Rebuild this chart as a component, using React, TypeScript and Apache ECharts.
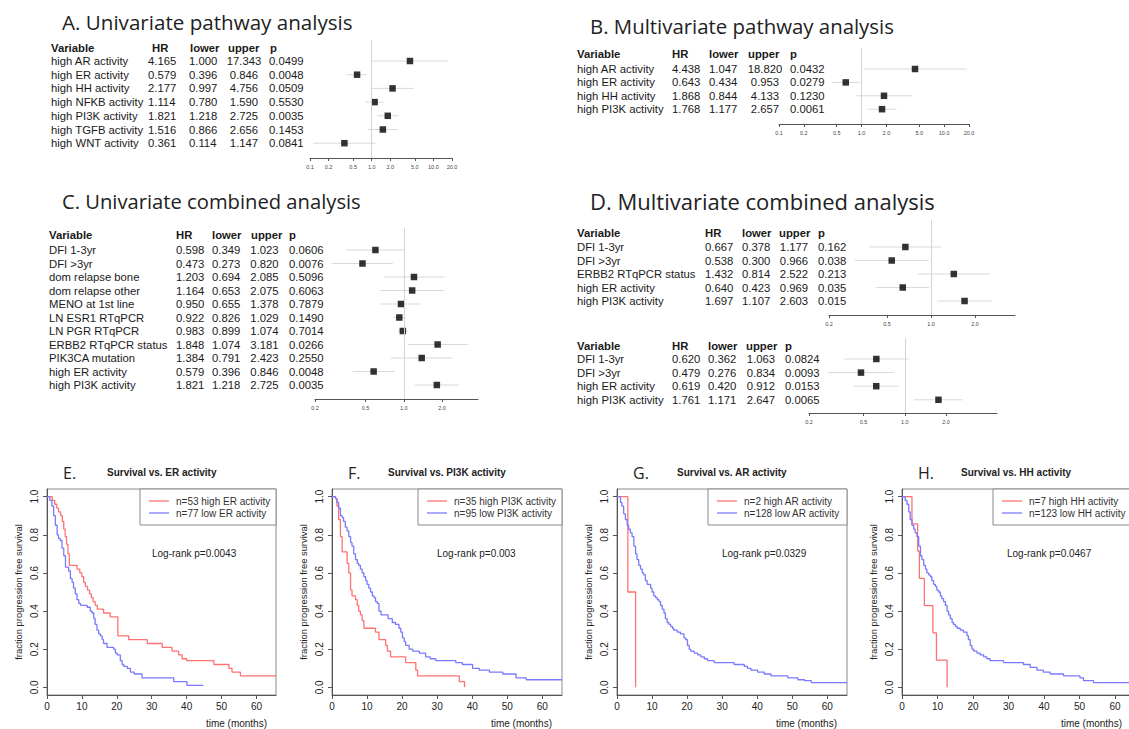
import React, { useEffect, useRef } from 'react';
import * as echarts from 'echarts';

// ---------------- Forest plot data ----------------
const tableHeaders = ['Variable', 'HR', 'lower', 'upper', 'p'];
const wideTicks = [0.1, 0.2, 0.5, 1.0, 2.0, 5.0, 10.0, 20.0];
const narrowTicks = [0.2, 0.5, 1.0, 2.0];

const aVars = ['high AR activity', 'high ER activity', 'high HH activity', 'high NFKB activity', 'high PI3K activity', 'high TGFB activity', 'high WNT activity'];
const aHR = [4.165, 0.579, 2.177, 1.114, 1.821, 1.516, 0.361];
const aLower = [1.0, 0.396, 0.997, 0.78, 1.218, 0.866, 0.114];
const aUpper = [17.343, 0.846, 4.756, 1.59, 2.725, 2.656, 1.147];
const aP = ['0.0499', '0.0048', '0.0509', '0.5530', '0.0035', '0.1453', '0.0841'];

const bVars = ['high AR activity', 'high ER activity', 'high HH activity', 'high PI3K activity'];
const bHR = [4.438, 0.643, 1.868, 1.768];
const bLower = [1.047, 0.434, 0.844, 1.177];
const bUpper = [18.82, 0.953, 4.133, 2.657];
const bP = ['0.0432', '0.0279', '0.1230', '0.0061'];

const cVars = ['DFI 1-3yr', 'DFI >3yr', 'dom relapse bone', 'dom relapse other', 'MENO at 1st line', 'LN ESR1 RTqPCR', 'LN PGR RTqPCR', 'ERBB2 RTqPCR status', 'PIK3CA mutation', 'high ER activity', 'high PI3K activity'];
const cHR = [0.598, 0.473, 1.203, 1.164, 0.95, 0.922, 0.983, 1.848, 1.384, 0.579, 1.821];
const cLower = [0.349, 0.273, 0.694, 0.653, 0.655, 0.826, 0.899, 1.074, 0.791, 0.396, 1.218];
const cUpper = [1.023, 0.82, 2.085, 2.075, 1.378, 1.029, 1.074, 3.181, 2.423, 0.846, 2.725];
const cP = ['0.0606', '0.0076', '0.5096', '0.6063', '0.7879', '0.1490', '0.7014', '0.0266', '0.2550', '0.0048', '0.0035'];

const d1Vars = ['DFI 1-3yr', 'DFI >3yr', 'ERBB2 RTqPCR status', 'high ER activity', 'high PI3K activity'];
const d1HR = [0.667, 0.538, 1.432, 0.64, 1.697];
const d1Lower = [0.378, 0.3, 0.814, 0.423, 1.107];
const d1Upper = [1.177, 0.966, 2.522, 0.969, 2.603];
const d1P = ['0.162', '0.038', '0.213', '0.035', '0.015'];

const d2Vars = ['DFI 1-3yr', 'DFI >3yr', 'high ER activity', 'high PI3K activity'];
const d2HR = [0.62, 0.479, 0.619, 1.761];
const d2Lower = [0.362, 0.276, 0.42, 1.171];
const d2Upper = [1.063, 0.834, 0.912, 2.647];
const d2P = ['0.0824', '0.0093', '0.0153', '0.0065'];

const panelTitles = ['A. Univariate pathway analysis', 'B. Multivariate pathway analysis', 'C. Univariate combined analysis', 'D. Multivariate combined analysis'];

// ---------------- Kaplan-Meier data (time in months, survival fraction) ----------------
const kmTimeTicks = [0, 10, 20, 30, 40, 50, 60];
const kmSurvTicks = [0, 0.2, 0.4, 0.6, 0.8, 1.0];

const erHighT = [0, 1.5, 2.2, 2.8, 3.3, 3.9, 4.4, 4.8, 5.2, 5.6, 6.0, 6.4, 8.6, 9.4, 10.0, 10.5, 11.0, 11.6, 12.2, 12.7, 13.2, 13.8, 14.4, 16.2, 18.1, 20.3, 23.4, 28.7, 33.0, 35.8, 37.7, 38.7, 40.0, 47.8, 52.1, 53.0, 55.4, 65.6];
const erHighS = [1, 0.98, 0.96, 0.94, 0.92, 0.9, 0.87, 0.83, 0.79, 0.75, 0.7, 0.64, 0.62, 0.6, 0.58, 0.55, 0.53, 0.51, 0.49, 0.47, 0.45, 0.43, 0.41, 0.39, 0.37, 0.27, 0.25, 0.23, 0.21, 0.19, 0.17, 0.15, 0.14, 0.12, 0.1, 0.08, 0.06, 0.06];
const erLowT = [0, 0.8, 1.4, 1.9, 2.4, 2.9, 3.3, 3.8, 4.3, 4.8, 5.3, 6.2, 6.7, 7.2, 7.6, 8.1, 8.6, 9.1, 9.6, 11.5, 12.4, 12.9, 13.4, 13.8, 14.3, 14.8, 15.3, 15.8, 16.2, 17.2, 19.1, 19.6, 20.1, 21.0, 21.5, 22.0, 23.0, 23.9, 25.0, 27.2, 36.3, 40.1, 44.8];
const erLowS = [1, 0.98, 0.95, 0.9, 0.85, 0.8, 0.78, 0.77, 0.73, 0.69, 0.63, 0.61, 0.57, 0.55, 0.52, 0.49, 0.46, 0.44, 0.43, 0.42, 0.4, 0.39, 0.36, 0.33, 0.3, 0.28, 0.27, 0.25, 0.23, 0.21, 0.2, 0.18, 0.17, 0.14, 0.12, 0.11, 0.1, 0.08, 0.07, 0.05, 0.03, 0.01, 0.01];

const pi3kHighT = [0, 1.0, 1.4, 1.9, 2.4, 2.9, 4.3, 4.8, 5.3, 5.7, 6.7, 7.2, 7.6, 8.1, 8.6, 9.1, 12.4, 13.4, 15.3, 15.8, 16.7, 21.0, 23.9, 24.4, 36.3, 37.8];
const pi3kHighS = [1, 0.99, 0.95, 0.88, 0.79, 0.71, 0.65, 0.6, 0.51, 0.48, 0.46, 0.43, 0.4, 0.38, 0.35, 0.31, 0.29, 0.25, 0.22, 0.19, 0.16, 0.13, 0.09, 0.06, 0.03, 0.0];
const pi3kLowT = [0, 1.0, 1.4, 1.9, 2.4, 2.9, 3.3, 3.8, 4.3, 4.8, 5.3, 5.7, 6.2, 6.7, 7.2, 7.6, 8.1, 8.6, 9.1, 9.6, 10.0, 10.5, 11.0, 11.5, 12.0, 12.4, 12.9, 13.4, 14.0, 16.0, 17.2, 18.1, 19.1, 19.6, 20.1, 20.6, 21.0, 22.0, 23.0, 24.9, 26.7, 28.0, 29.6, 35.3, 37.2, 40.1, 42.0, 44.9, 48.7, 52.5, 55.4, 65.6];
const pi3kLowS = [1, 0.99, 0.97, 0.94, 0.9, 0.89, 0.87, 0.84, 0.82, 0.79, 0.76, 0.74, 0.7, 0.67, 0.65, 0.64, 0.62, 0.6, 0.58, 0.56, 0.54, 0.52, 0.5, 0.48, 0.47, 0.45, 0.44, 0.4, 0.38, 0.36, 0.34, 0.33, 0.31, 0.29, 0.26, 0.24, 0.22, 0.2, 0.19, 0.18, 0.16, 0.15, 0.14, 0.13, 0.12, 0.1, 0.09, 0.08, 0.07, 0.05, 0.04, 0.04];

const arHighT = [0, 3.1, 5.3];
const arHighS = [1, 0.5, 0.0];
const arLowT = [0, 1.0, 1.4, 1.9, 2.4, 2.9, 3.3, 3.8, 4.3, 4.8, 5.3, 5.7, 6.2, 6.7, 7.2, 7.6, 8.1, 8.6, 9.6, 10.0, 10.5, 11.0, 11.5, 12.0, 12.4, 12.9, 13.4, 13.8, 14.3, 14.8, 15.3, 15.8, 16.2, 17.2, 18.1, 19.1, 19.6, 20.1, 20.6, 21.0, 22.0, 23.0, 23.9, 24.9, 25.8, 27.7, 33.4, 36.3, 37.2, 38.2, 40.1, 42.0, 43.9, 48.7, 51.6, 53.5, 55.4, 65.6];
const arLowS = [1, 0.97, 0.95, 0.91, 0.88, 0.85, 0.83, 0.81, 0.79, 0.74, 0.7, 0.67, 0.64, 0.62, 0.6, 0.59, 0.56, 0.54, 0.52, 0.5, 0.48, 0.47, 0.46, 0.45, 0.43, 0.41, 0.39, 0.36, 0.34, 0.33, 0.32, 0.31, 0.3, 0.29, 0.28, 0.26, 0.25, 0.22, 0.2, 0.19, 0.18, 0.17, 0.16, 0.15, 0.14, 0.13, 0.12, 0.11, 0.1, 0.09, 0.08, 0.07, 0.06, 0.05, 0.04, 0.035, 0.025, 0.025];

const hhHighT = [0, 2.8, 4.4, 4.9, 6.3, 8.7, 9.7, 12.7];
const hhHighS = [1, 0.857, 0.714, 0.571, 0.429, 0.286, 0.143, 0.0];
const hhLowT = [0, 0.9, 1.4, 1.9, 2.3, 2.8, 3.3, 3.7, 4.2, 4.7, 5.2, 5.6, 6.1, 6.6, 7.0, 7.5, 8.0, 8.4, 8.9, 9.4, 9.8, 10.3, 10.8, 11.2, 11.7, 12.2, 12.7, 13.1, 13.6, 14.1, 14.5, 15.0, 15.5, 16.4, 17.3, 18.3, 18.7, 19.2, 19.7, 20.2, 21.1, 22.0, 23.0, 23.9, 24.8, 28.6, 34.2, 36.1, 38.0, 39.8, 41.7, 45.5, 50.1, 51.1, 53.9, 65.6];
const hhLowS = [1, 0.98, 0.96, 0.92, 0.88, 0.85, 0.83, 0.81, 0.79, 0.74, 0.69, 0.67, 0.64, 0.62, 0.6, 0.59, 0.58, 0.56, 0.54, 0.53, 0.51, 0.5, 0.48, 0.465, 0.45, 0.43, 0.4, 0.38, 0.36, 0.34, 0.33, 0.32, 0.31, 0.3, 0.29, 0.27, 0.25, 0.22, 0.2, 0.19, 0.18, 0.17, 0.16, 0.15, 0.14, 0.13, 0.12, 0.105, 0.09, 0.08, 0.07, 0.06, 0.05, 0.035, 0.025, 0.025];

const kmLetters = ['E.', 'F.', 'G.', 'H.'];
const kmTitles = ['Survival vs. ER activity', 'Survival vs. PI3K activity', 'Survival vs. AR activity', 'Survival vs. HH activity'];
const kmHighLabels = ['n=53 high ER activity', 'n=35 high PI3K activity', 'n=2 high AR activity', 'n=7 high HH activity'];
const kmLowLabels = ['n=77 low ER activity', 'n=95 low PI3K activity', 'n=128 low AR activity', 'n=123 low HH activity'];
const kmPvals = ['Log-rank p=0.0043', 'Log-rank p=0.003', 'Log-rank p=0.0329', 'Log-rank p=0.0467'];

// ---------------- layout ----------------
const forestPanels = [
  { vars: aVars, hr: aHR, lo: aLower, up: aUpper, p: aP, ticks: wideTicks, xMin: 0.1, xMax: 20,
    left: 310, width: 142, top: 40, axisY: 158, headerY: 48, row0: 61, dy: 13.7,
    hx: [51, 152, 190, 228, 270], vx: [51, 148, 189, 244, 269] },
  { vars: bVars, hr: bHR, lo: bLower, up: bUpper, p: bP, ticks: wideTicks, xMin: 0.1, xMax: 20,
    left: 779, width: 190, top: 48, axisY: 124, headerY: 54, row0: 69, dy: 13.4,
    hx: [577, 672, 709, 748, 790], vx: [577, 672, 709, 765, 790] },
  { vars: cVars, hr: cHR, lo: cLower, up: cUpper, p: cP, ticks: narrowTicks, xMin: 0.2, xMax: 3.84,
    left: 315, width: 163, top: 228, axisY: 399, headerY: 235, row0: 250, dy: 13.5,
    hx: [49, 176, 212, 251, 289], vx: [49, 176, 212, 264.5, 289] },
  { vars: d1Vars, hr: d1HR, lo: d1Lower, up: d1Upper, p: d1P, ticks: narrowTicks, xMin: 0.2, xMax: 3.76,
    left: 829, width: 186, top: 220, axisY: 315, headerY: 233, row0: 247, dy: 13.5,
    hx: [577, 705, 742, 779, 818], vx: [577, 705, 742, 794, 818] },
  { vars: d2Vars, hr: d2HR, lo: d2Lower, up: d2Upper, p: d2P, ticks: narrowTicks, xMin: 0.2, xMax: 4.71,
    left: 809, width: 188, top: 338, axisY: 413, headerY: 346, row0: 359, dy: 13.6,
    hx: [577, 672, 708, 746, 785], vx: [577, 672, 708, 761, 785] },
];

const titlePos = [
  { x: 62, y: 22, size: 20.6 }, { x: 590, y: 25.5, size: 20.4 }, { x: 62, y: 200.5, size: 20.2 }, { x: 590, y: 200.5, size: 22 },
];

const kmPanels = [
  { hiT: erHighT, hiS: erHighS, loT: erLowT, loS: erLowS, left: 47, width: 229, box: 140, letterX: 63, titleX: 107, pX: 152 },
  { hiT: pi3kHighT, hiS: pi3kHighS, loT: pi3kLowT, loS: pi3kLowS, left: 332, width: 230, box: 418, letterX: 348, titleX: 388, pX: 437 },
  { hiT: arHighT, hiS: arHighS, loT: arLowT, loS: arLowS, left: 617, width: 230, box: 708, letterX: 633, titleX: 677, pX: 722 },
  { hiT: hhHighT, hiS: hhHighS, loT: hhLowT, loS: hhLowS, left: 902, width: 233, box: 993, letterX: 918, titleX: 961, pX: 1007 },
];

const KM_TOP = 489;
const KM_H = 206;
const RED = '#ff7272';
const BLUE = '#7a7aff';
const SANS = '"Liberation Sans", Arial, sans-serif';
const TITLE_FONT = '"Open Sans", Lato, sans-serif';

function buildOption() {
  const grids: any[] = [];
  const xAxes: any[] = [];
  const yAxes: any[] = [];
  const series: any[] = [];
  const graphics: any[] = [];
  const l10 = (v: number) => Math.log10(v);

  panelTitles.forEach((t, i) => {
    graphics.push({
      type: 'text', x: titlePos[i].x, y: titlePos[i].y, z: 20,
      style: { text: t, fontFamily: TITLE_FONT, fontSize: titlePos[i].size, fill: '#222', align: 'left', verticalAlign: 'middle' },
    });
  });

  forestPanels.forEach((fp, gi) => {
    grids.push({ left: fp.left, top: fp.top, width: fp.width, height: fp.axisY - fp.top, containLabel: false, outerBoundsMode: 'none' });
    const tv = fp.ticks.map(l10);
    xAxes.push({
      gridIndex: gi, type: 'value', min: l10(fp.xMin), max: l10(fp.xMax),
      splitLine: { show: false },
      axisLine: { show: true, onZero: false, lineStyle: { color: '#555', width: 1 } },
      axisTick: { show: true, customValues: tv, length: 3, lineStyle: { color: '#555' } },
      axisLabel: { show: true, customValues: tv, formatter: (v: number) => Math.pow(10, v).toFixed(1), fontSize: 5.5, color: '#444', margin: 6, fontFamily: SANS },
    });
    yAxes.push({
      gridIndex: gi, type: 'value', inverse: true,
      min: (fp.top - fp.row0) / fp.dy, max: (fp.axisY - fp.row0) / fp.dy, show: false,
    });
    series.push({
      type: 'custom', xAxisIndex: gi, yAxisIndex: gi, silent: true, z: 2,
      encode: { x: [0, 1], y: 2 },
      data: fp.lo.map((lo, i) => [l10(lo), l10(fp.up[i]), i]),
      renderItem: (params: any, api: any) => {
        const p1 = api.coord([api.value(0), api.value(2)]);
        const p2 = api.coord([api.value(1), api.value(2)]);
        return { type: 'line', shape: { x1: p1[0], y1: p1[1], x2: p2[0], y2: p2[1] }, style: { stroke: '#d9d9d9', lineWidth: 1 } };
      },
    });
    series.push({
      type: 'scatter', xAxisIndex: gi, yAxisIndex: gi, symbol: 'rect', symbolSize: 6.5, z: 3,
      itemStyle: { color: '#000' },
      data: fp.hr.map((h, i) => [l10(h), i]),
      markLine: {
        silent: true, symbol: ['none', 'none'], label: { show: false },
        lineStyle: { color: '#d4d4d4', type: 'solid', width: 1 },
        data: [{ xAxis: 0 }],
      },
    });
    // table
    tableHeaders.forEach((h, c) => {
      graphics.push({
        type: 'text', x: fp.hx[c], y: fp.headerY, z: 20,
        style: { text: h, fontFamily: SANS, fontSize: 11.3, fontWeight: 'bold', fill: '#1a1a1a', align: 'left', verticalAlign: 'middle' },
      });
    });
    fp.vars.forEach((v, i) => {
      const cells = [v, fp.hr[i].toFixed(3), fp.lo[i].toFixed(3), fp.up[i].toFixed(3), fp.p[i]];
      cells.forEach((txt, c) => {
        graphics.push({
          type: 'text', x: fp.vx[c], y: fp.row0 + i * fp.dy, z: 20,
          style: { text: txt, fontFamily: SANS, fontSize: 11.3, fill: '#1a1a1a', align: c === 3 ? 'center' : 'left', verticalAlign: 'middle' },
        });
      });
    });
  });

  kmPanels.forEach((kp, k) => {
    const gi = forestPanels.length + k;
    grids.push({ left: kp.left, top: KM_TOP, width: kp.width, height: KM_H, show: true, borderColor: '#8a8a8a', borderWidth: 1, containLabel: false, outerBoundsMode: 'none' });
    xAxes.push({
      gridIndex: gi, type: 'value', min: 0, max: 65.6,
      splitLine: { show: false },
      axisLine: { show: true, onZero: false, lineStyle: { color: '#555' } },
      axisTick: { show: true, customValues: kmTimeTicks, length: 4, lineStyle: { color: '#555' } },
      axisLabel: { show: true, customValues: kmTimeTicks, fontSize: 10, color: '#222', margin: 6, fontFamily: SANS },
    });
    yAxes.push({
      gridIndex: gi, type: 'value', min: -0.04, max: 1.04,
      splitLine: { show: false },
      axisLine: { show: true, onZero: false, lineStyle: { color: '#555' } },
      axisTick: { show: true, customValues: kmSurvTicks, length: 4, lineStyle: { color: '#555' } },
      axisLabel: { show: true, customValues: kmSurvTicks, rotate: 90, formatter: (v: number) => v.toFixed(1), fontSize: 10, color: '#222', margin: 8, fontFamily: SANS },
    });
    series.push({
      type: 'line', xAxisIndex: gi, yAxisIndex: gi, step: 'end', showSymbol: false, symbol: 'none', silent: true, z: 3,
      lineStyle: { color: RED, width: 1.3 },
      data: kp.hiT.map((t, i) => [t, kp.hiS[i]]),
    });
    series.push({
      type: 'line', xAxisIndex: gi, yAxisIndex: gi, step: 'end', showSymbol: false, symbol: 'none', silent: true, z: 3,
      lineStyle: { color: BLUE, width: 1.3 },
      data: kp.loT.map((t, i) => [t, kp.loS[i]]),
    });
    const right = kp.left + kp.width;
    graphics.push({ type: 'text', x: kp.letterX, y: 472.5, z: 20, style: { text: kmLetters[k], fontFamily: TITLE_FONT, fontSize: 16, fill: '#222', align: 'left', verticalAlign: 'middle' } });
    graphics.push({ type: 'text', x: kp.titleX, y: 472.5, z: 20, style: { text: kmTitles[k], fontFamily: SANS, fontSize: 10, fontWeight: 'bold', fill: '#222', align: 'left', verticalAlign: 'middle' } });
    graphics.push({ type: 'rect', z: 15, shape: { x: kp.box, y: KM_TOP, width: right - kp.box, height: 36 }, style: { fill: '#fff', stroke: '#8a8a8a', lineWidth: 1 } });
    graphics.push({ type: 'line', z: 16, shape: { x1: kp.box + 9, y1: KM_TOP + 12, x2: kp.box + 29, y2: KM_TOP + 12 }, style: { stroke: RED, lineWidth: 1.3 } });
    graphics.push({ type: 'line', z: 16, shape: { x1: kp.box + 9, y1: KM_TOP + 24, x2: kp.box + 29, y2: KM_TOP + 24 }, style: { stroke: BLUE, lineWidth: 1.3 } });
    graphics.push({ type: 'text', x: kp.box + 36, y: KM_TOP + 12, z: 16, style: { text: kmHighLabels[k], fontFamily: SANS, fontSize: 10, fill: '#333', align: 'left', verticalAlign: 'middle' } });
    graphics.push({ type: 'text', x: kp.box + 36, y: KM_TOP + 24, z: 16, style: { text: kmLowLabels[k], fontFamily: SANS, fontSize: 10, fill: '#333', align: 'left', verticalAlign: 'middle' } });
    graphics.push({ type: 'text', x: kp.pX, y: 553, z: 16, style: { text: kmPvals[k], fontFamily: SANS, fontSize: 10, fill: '#222', align: 'left', verticalAlign: 'middle' } });
    graphics.push({ type: 'text', x: kp.left - 29, y: 592, rotation: Math.PI / 2, z: 16, style: { text: 'fraction progression free survival', fontFamily: SANS, fontSize: 9.4, fill: '#222', align: 'center', verticalAlign: 'middle' } });
    graphics.push({ type: 'text', x: kp.left + 220, y: 723, z: 16, style: { text: 'time (months)', fontFamily: SANS, fontSize: 10, fill: '#222', align: 'right', verticalAlign: 'middle' } });
  });

  return {
    animation: false,
    backgroundColor: '#fff',
    grid: grids,
    xAxis: xAxes,
    yAxis: yAxes,
    series,
    graphic: { elements: graphics },
  };
}

export default function App() {
  const ref = useRef<HTMLDivElement>(null);
  useEffect(() => {
    if (!ref.current) return;
    const chart = echarts.init(ref.current, null, { renderer: 'svg' });
    chart.setOption(buildOption() as any);
    return () => chart.dispose();
  }, []);
  return (
    <div
      ref={ref}
      style={{ position: 'absolute', left: 0, top: 0, width: 1129, height: 729, background: '#fff' }}
    />
  );
}
